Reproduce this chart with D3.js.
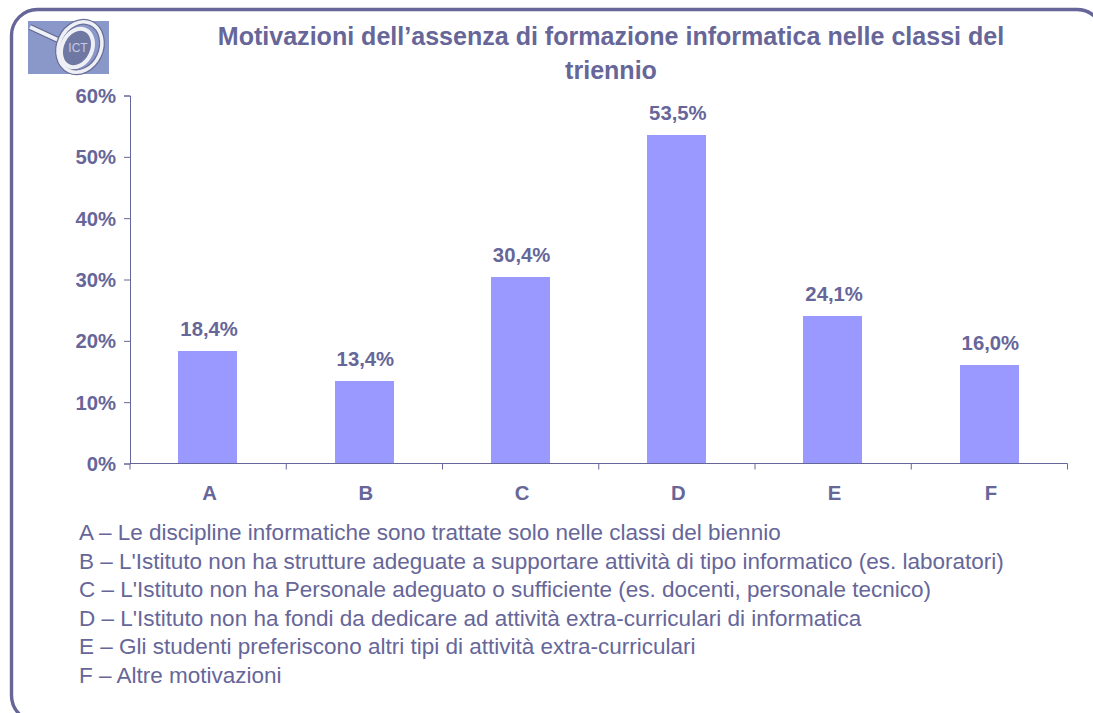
<!DOCTYPE html>
<html><head><meta charset="utf-8">
<script src="https://cdn.jsdelivr.net/npm/d3@7/dist/d3.min.js"></script>
<style>html,body{margin:0;padding:0;background:#fff;overflow:hidden}svg{display:block}text{font-family:"Liberation Sans",Arial,sans-serif}</style>
</head><body><svg id="c" width="1093" height="713"></svg>
<script>
const categories=["A","B","C","D","E","F"];
const values=[18.4,13.4,30.4,53.5,24.1,16.0];
const valueLabels=["18,4%","13,4%","30,4%","53,5%","24,1%","16,0%"];
const yTicks=[0,10,20,30,40,50,60];
const titleLines=["Motivazioni dell’assenza di formazione informatica nelle classi del","triennio"];
const legendLines=[
"A – Le discipline informatiche sono trattate solo nelle classi del biennio",
"B – L'Istituto non ha strutture adeguate a supportare attività di tipo informatico (es. laboratori)",
"C – L'Istituto non ha Personale adeguato o sufficiente (es. docenti, personale tecnico)",
"D – L'Istituto non ha fondi da dedicare ad attività extra-curriculari di informatica",
"E – Gli studenti preferiscono altri tipi di attività extra-curriculari",
"F – Altre motivazioni"];
const ink="#666699",bar="#9999ff";
const svg=d3.select("#c");
// frame
svg.append("rect").attr("x",11.5).attr("y",9.5).attr("width",1091.5).attr("height",712).attr("rx",26)
 .attr("fill","#fff").attr("stroke",ink).attr("stroke-width",3.4);
// logo
const logo=svg.append("g").attr("transform","translate(28,21)");
logo.append("rect").attr("width",81).attr("height",53).attr("fill","#8a97c9");
logo.append("line").attr("x1",2).attr("y1",6).attr("x2",30).attr("y2",19).attr("stroke","#5f6690").attr("stroke-width",6);
logo.append("line").attr("x1",2).attr("y1",6).attr("x2",30).attr("y2",19).attr("stroke","#eef0f6").attr("stroke-width",4);
const ring=(rx,ry,cx,cy,stroke,w,fill)=>logo.append("ellipse").attr("cx",cx).attr("cy",cy).attr("rx",rx).attr("ry",ry)
 .attr("transform",`rotate(25 ${cx} ${cy})`).attr("fill",fill||"none").attr("stroke",stroke).attr("stroke-width",w);
ring(21,26,52,26,"#6b7099",6);
ring(21,26,52,26,"#eef0f6",3.5);
ring(15,20,49,27,"#eef0f6",4,"#6f77a3");
logo.append("text").attr("x",50).attr("y",31).attr("text-anchor","middle").attr("font-size",12).attr("fill","#c5cae6").text("ICT");
// title
svg.selectAll("text.title").data(titleLines).join("text").attr("class","title")
 .attr("x",611).attr("y",(d,i)=>45+i*33.5).attr("text-anchor","middle")
 .attr("font-size",25.05).attr("font-weight","bold").attr("fill",ink).text(d=>d);
// scales
const x=d3.scaleBand().domain(categories).range([130,1067.5]);
const y=d3.scaleLinear().domain([0,60]).range([463.5,95.5]);
const barW=59;
svg.selectAll("rect.bar").data(values).join("rect").attr("class","bar")
 .attr("x",(d,i)=>Math.round(x(categories[i])+x.bandwidth()/2-barW/2-0.2))
 .attr("y",d=>Math.round(y(d)+0.1)).attr("width",barW).attr("height",d=>y(0)-Math.round(y(d)+0.1)).attr("fill",bar);
// y axis
const gy=svg.append("g").attr("transform","translate(130,0)")
 .call(d3.axisLeft(y).tickValues(yTicks).tickFormat(d=>d+"%").tickSize(6).tickPadding(8));
gy.select(".domain").attr("stroke",ink);
gy.selectAll("line").attr("stroke",ink);
gy.selectAll("text").attr("fill",ink).attr("font-size",20.3).attr("font-weight","bold").attr("font-family",'"Liberation Sans",Arial,sans-serif').attr("dy","0.34em");
// x axis
const gx=svg.append("g").attr("transform","translate(0,463.5)");
gx.append("line").attr("x1",x.range()[0]).attr("x2",x.range()[1]).attr("stroke",ink);
const boundaries=categories.map(c=>x(c)).concat([x.range()[1]]);
gx.selectAll("line.t").data(boundaries).join("line").attr("class","t")
 .attr("x1",d=>d).attr("x2",d=>d).attr("y1",0).attr("y2",6).attr("stroke",ink);
gx.selectAll("text").data(categories).join("text")
 .attr("x",d=>x(d)+x.bandwidth()/2+1.5).attr("y",36).attr("text-anchor","middle")
 .attr("font-size",20.3).attr("font-weight","bold").attr("fill",ink).text(d=>d);
// value labels
svg.selectAll("text.val").data(values).join("text").attr("class","val")
 .attr("x",(d,i)=>x(categories[i])+x.bandwidth()/2+1)
 .attr("y",d=>y(d)-15).attr("text-anchor","middle")
 .attr("font-size",20.3).attr("font-weight","bold").attr("fill",ink).text((d,i)=>valueLabels[i]);
// legend
svg.selectAll("text.leg").data(legendLines).join("text").attr("class","leg")
 .attr("x",79).attr("y",(d,i)=>540+i*28.6)
 .attr("font-size",22.5).attr("fill",ink).text(d=>d);
</script></body></html>
